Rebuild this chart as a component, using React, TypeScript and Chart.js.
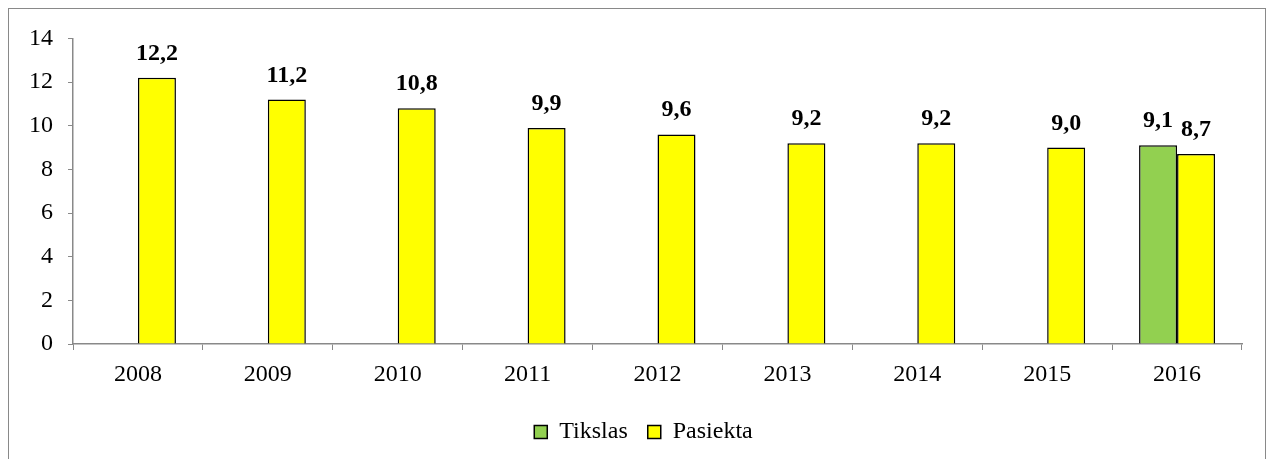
import React, { useEffect, useRef } from "react";
import { Chart, registerables } from "chart.js";

Chart.register(...registerables);

const categories = ["2008", "2009", "2010", "2011", "2012", "2013", "2014", "2015", "2016"];
const tikslasValues = [null, null, null, null, null, null, null, null, 9.1];
const pasiektaValues = [12.2, 11.2, 10.8, 9.9, 9.6, 9.2, 9.2, 9.0, 8.7];
const yMin = 0;
const yMax = 14;
const yStep = 2;

const FONT = "'Liberation Serif', 'Times New Roman', serif";

const valueLabels = {
  id: "valueLabels",
  afterDatasetsDraw(chart: any) {
    const ctx = chart.ctx;
    ctx.save();
    ctx.font = `bold 24px ${FONT}`;
    ctx.fillStyle = "#000";
    ctx.textAlign = "center";
    ctx.textBaseline = "alphabetic";
    chart.data.datasets.forEach((ds: any, i: number) => {
      const meta = chart.getDatasetMeta(i);
      meta.data.forEach((el: any, j: number) => {
        const v = ds.data[j];
        if (v === null || v === undefined) return;
        const txt = Number(v).toFixed(1).replace(".", ",");
        ctx.fillText(txt, el.x, el.y - 18);
      });
    });
    ctx.restore();
  },
};

// center the legend on the whole frame rather than the padded area
const legendShift = {
  id: "legendShift",
  afterLayout(chart: any) {
    const lg = chart.legend;
    if (!lg) return;
    lg.left += 18;
    lg.right += 18;
  },
};

export default function App() {
  const canvasRef = useRef<HTMLCanvasElement | null>(null);

  useEffect(() => {
    if (!canvasRef.current) return;
    const chart = new Chart(canvasRef.current, {
      type: "bar",
      data: {
        labels: categories,
        datasets: [
          {
            label: "Tikslas",
            data: tikslasValues as any,
            backgroundColor: "#92D050",
            borderColor: "#000000",
            borderWidth: 1.5,
            barPercentage: 1,
            categoryPercentage: 0.585,
          },
          {
            label: "Pasiekta",
            data: pasiektaValues,
            backgroundColor: "#FFFF00",
            borderColor: "#000000",
            borderWidth: 1.5,
            barPercentage: 1,
            categoryPercentage: 0.585,
          },
        ],
      },
      options: {
        responsive: true,
        maintainAspectRatio: false,
        animation: false,
        layout: { padding: { top: 28, right: 23, left: 0, bottom: 15 } },
        plugins: {
          tooltip: { enabled: false },
          legend: {
            position: "bottom",
            labels: {
              font: { family: FONT, size: 24 },
              color: "#000",
              boxWidth: 13,
              boxHeight: 13,
              padding: 20,
            },
          },
        },
        scales: {
          x: {
            grid: {
              display: true,
              drawOnChartArea: false,
              offset: true,
              tickLength: 6,
              color: "#898989",
            },
            border: { color: "#898989", width: 1.5 },
            ticks: {
              font: { family: FONT, size: 24 },
              color: "#000",
              padding: 10,
            },
            afterFit: (scale: any) => {
              scale.height = 56;
            },
          },
          y: {
            min: yMin,
            max: yMax,
            grid: {
              display: true,
              drawOnChartArea: false,
              tickLength: 5,
              color: "#898989",
            },
            border: { color: "#898989", width: 1.5 },
            ticks: {
              stepSize: yStep,
              font: { family: FONT, size: 24 },
              color: "#000",
              padding: 15,
            },
            afterFit: (scale: any) => {
              scale.width = 64;
            },
          },
        },
      },
      plugins: [valueLabels, legendShift],
    });
    return () => chart.destroy();
  }, []);

  return (
    <div
      style={{
        border: "1px solid #898989",
        height: 460,
        position: "relative",
        background: "#fff",
      }}
    >
      <canvas ref={canvasRef} />
    </div>
  );
}
